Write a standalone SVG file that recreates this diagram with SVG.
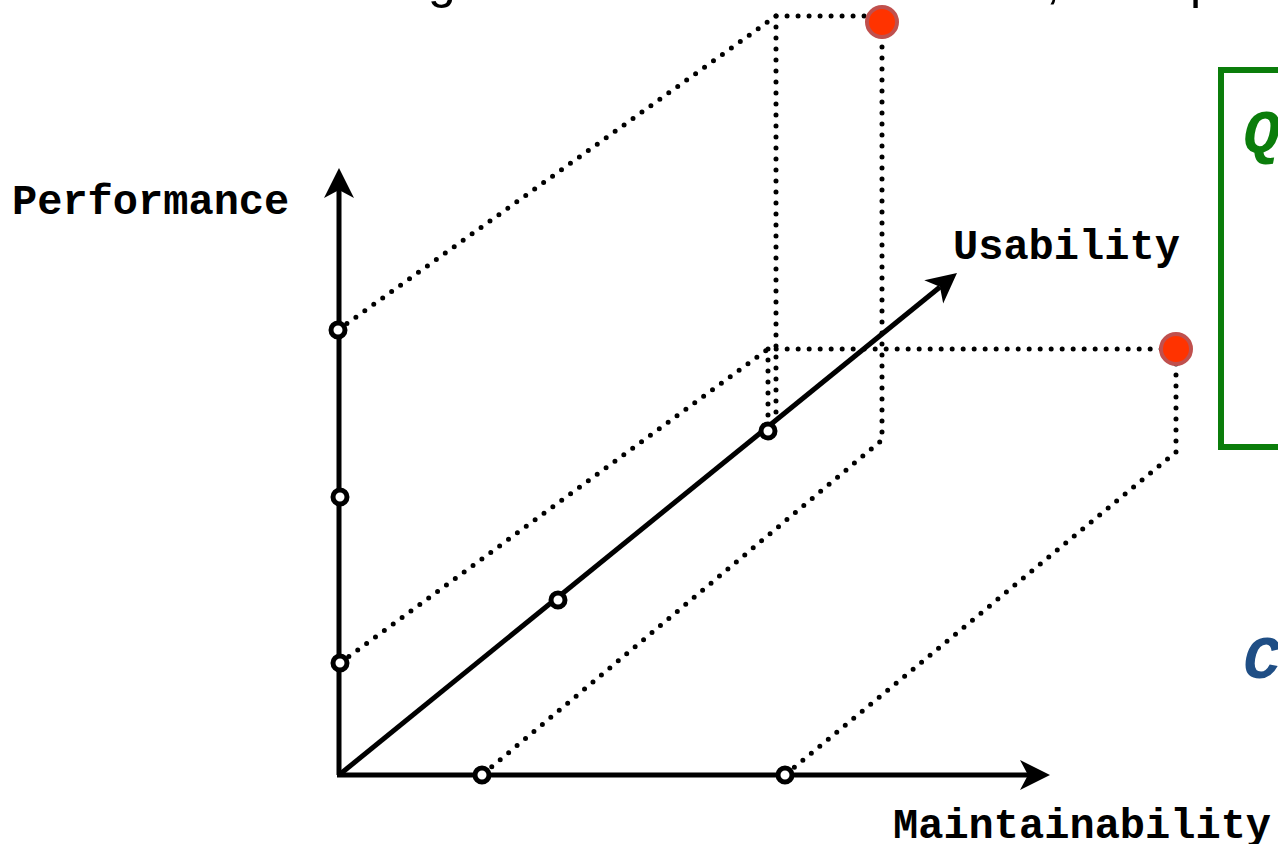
<svg xmlns="http://www.w3.org/2000/svg" width="1278" height="844" viewBox="0 0 1278 844">
<style>
.axis{stroke:#000;stroke-width:5;fill:none}
.dot{stroke:#000;stroke-width:5;fill:none;stroke-dasharray:0 11;stroke-linecap:round}
.tick{fill:#fff;stroke:#000;stroke-width:5}
.red{fill:#ff3300;stroke:#c0504d;stroke-width:4}
.lbl{font-family:"Liberation Mono","Courier New",monospace;font-weight:bold;font-size:42px;fill:#000}
.title{font-family:"Liberation Sans",Arial,sans-serif;font-size:50px;fill:#000}
.big{font-family:"Liberation Mono","Courier New",monospace;font-weight:bold;font-style:italic;font-size:62px}
</style>
<defs>
<path id="ah" d="M0,0 L-30,-15 L-22,0 L-30,15 Z" fill="#000"/>
</defs>
<g id="title">
<text class="title" x="428" y="-2">g</text>
<text class="title" x="1046" y="-2">,</text>
<text class="title" x="1190" y="-2">p</text>
</g>
<g id="connectors">
<polyline class="dot" points="338,330 776,16 870,16"/>
<line class="dot" x1="776" y1="16" x2="776" y2="422"/>
<polyline class="dot" points="882,36 882,440 482,775"/>
<polyline class="dot" points="340,663 768,349 1162,349"/>
<line class="dot" x1="768" y1="349" x2="768" y2="425"/>
<polyline class="dot" points="1176,364 1176,452 785,775"/>
</g>
<g id="axes">
<line class="axis" x1="339" y1="775" x2="339" y2="190"/>
<use href="#ah" transform="translate(339,168) rotate(-90)"/>
<line class="axis" x1="337" y1="775" x2="1028" y2="775"/>
<use href="#ah" transform="translate(1050,775)"/>
<line class="axis" x1="339" y1="775" x2="940" y2="287"/>
<use href="#ah" transform="translate(957,273) rotate(-39.1)"/>
</g>
<g id="ticks">
<circle class="tick" cx="338" cy="330" r="7"/>
<circle class="tick" cx="340" cy="497" r="7"/>
<circle class="tick" cx="340" cy="663" r="7"/>
<circle class="tick" cx="558" cy="600" r="7"/>
<circle class="tick" cx="768" cy="431" r="7"/>
<circle class="tick" cx="482" cy="775" r="7"/>
<circle class="tick" cx="785" cy="775" r="7"/>
</g>
<g id="points">
<circle class="red" cx="882" cy="22" r="15"/>
<circle class="red" cx="1176" cy="349" r="15"/>
</g>
<g id="labels">
<text class="lbl" x="12" y="214">Performance</text>
<text class="lbl" x="953" y="259">Usability</text>
<text class="lbl" x="893" y="838">Maintainability</text>
</g>
<g id="box">
<rect x="1221" y="70" width="200" height="377" fill="none" stroke="#0b7d0b" stroke-width="6"/>
<text class="big" x="1243" y="152" fill="#0b7d0b">Q</text>
</g>
<g id="c-label">
<text class="big" x="1243" y="678" fill="#1f4e85">C</text>
</g>
</svg>
